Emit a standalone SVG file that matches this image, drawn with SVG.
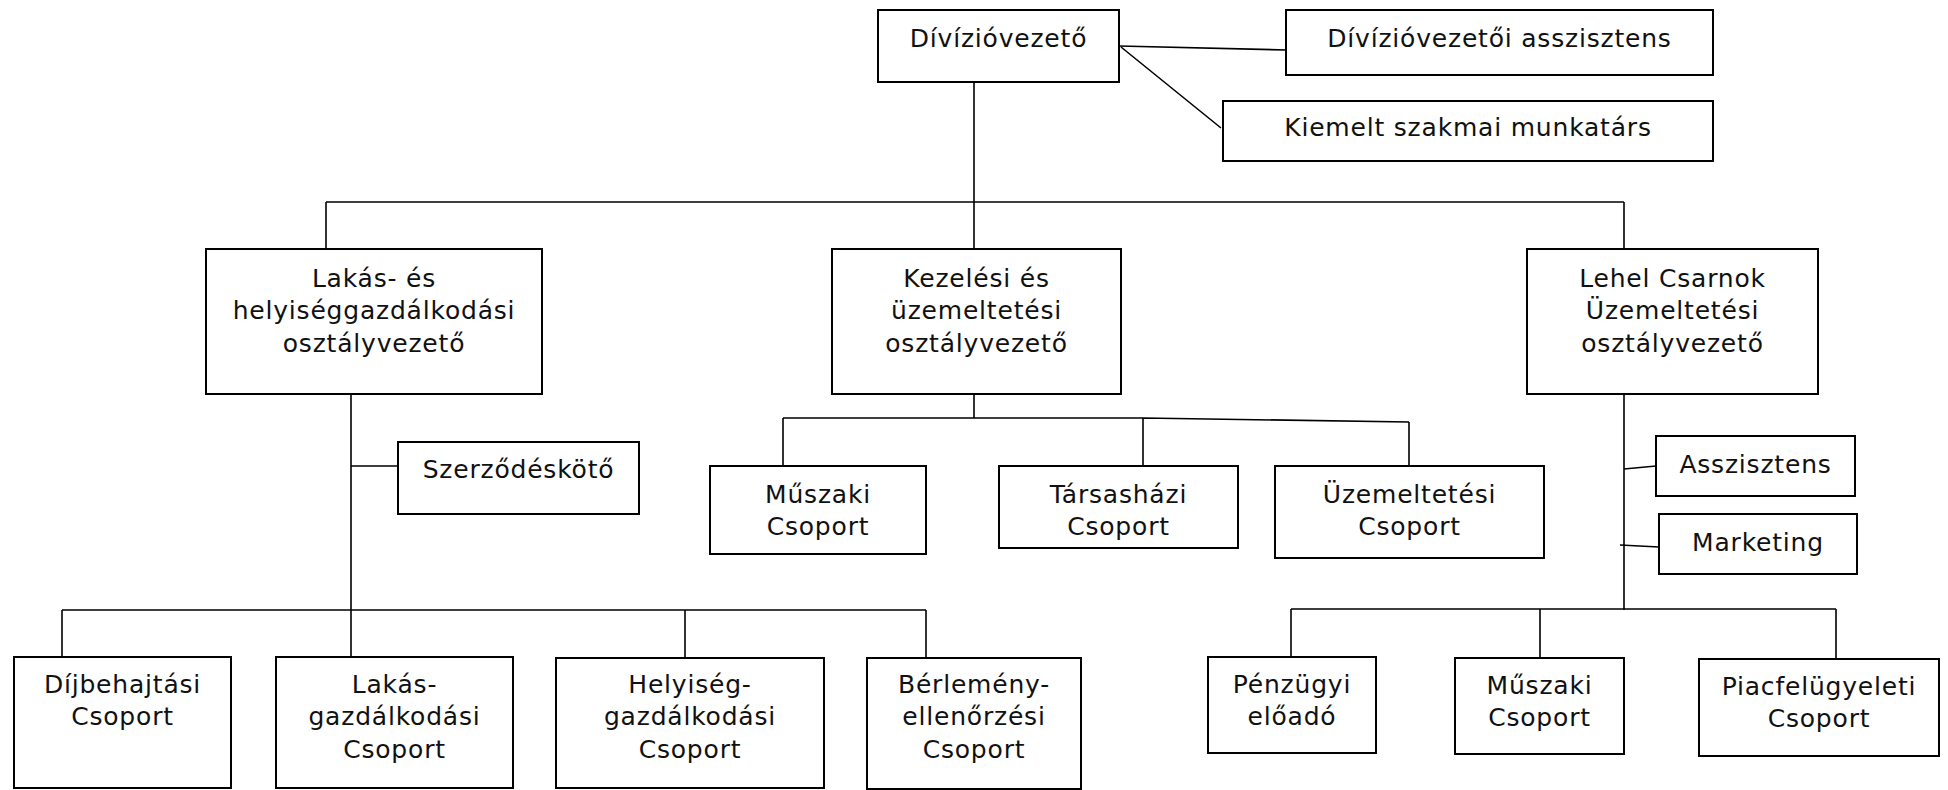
<svg xmlns="http://www.w3.org/2000/svg" width="1948" height="790" viewBox="0 0 1948 790">
<style>
.box{fill:#fff;stroke:#000;stroke-width:2}
.t{font-family:"DejaVu Sans","Liberation Sans",sans-serif;font-size:25px;fill:#111;text-anchor:middle;letter-spacing:0.8px}
.c{fill:none;stroke:#000;stroke-width:1.6}
</style>
<rect width="1948" height="790" fill="#fff"/>
<g id="connectors">
<path class="c" d="M974,82V202M326,202H1624M326,202V249M974,202V249M1624,202V249"/>
<path class="c" d="M1119,46L1286,50M1121,47L1221,128"/>
<path class="c" d="M351,394V610M351,466H398M62,610H926M62,610V657M351,610V657M685,610V658M926,610V658"/>
<path class="c" d="M974,394V418M783,418H1143L1409,422M783,418V466M1143,418V466M1409,422V466"/>
<path class="c" d="M1624,394V610M1624,469L1656,466M1620,545L1659,547M1291,609H1836M1291,609V657M1540,609V658M1836,609V659"/>
</g>
<g id="n-div"><rect class="box" x="878" y="10" width="241" height="72"/><text class="t" x="998.5" y="47">Dívízióvezető</text></g>
<g id="n-divassz"><rect class="box" x="1286" y="10" width="427" height="65"/><text class="t" x="1499.5" y="47">Dívízióvezetői asszisztens</text></g>
<g id="n-kiemelt"><rect class="box" x="1223" y="101" width="490" height="60"/><text class="t" x="1468" y="136">Kiemelt szakmai munkatárs</text></g>
<g id="n-lakas"><rect class="box" x="206" y="249" width="336" height="145"/><text class="t" x="374" y="287">Lakás- és</text><text class="t" x="374" y="319">helyiséggazdálkodási</text><text class="t" x="374" y="352">osztályvezető</text></g>
<g id="n-kezelesi"><rect class="box" x="832" y="249" width="289" height="145"/><text class="t" x="976.5" y="287">Kezelési és</text><text class="t" x="976.5" y="319">üzemeltetési</text><text class="t" x="976.5" y="352">osztályvezető</text></g>
<g id="n-lehel"><rect class="box" x="1527" y="249" width="291" height="145"/><text class="t" x="1672.5" y="287">Lehel Csarnok</text><text class="t" x="1672.5" y="319">Üzemeltetési</text><text class="t" x="1672.5" y="352">osztályvezető</text></g>
<g id="n-szerz"><rect class="box" x="398" y="442" width="241" height="72"/><text class="t" x="518.5" y="478">Szerződéskötő</text></g>
<g id="n-muszaki1"><rect class="box" x="710" y="466" width="216" height="88"/><text class="t" x="818" y="503">Műszaki</text><text class="t" x="818" y="535">Csoport</text></g>
<g id="n-tarsas"><rect class="box" x="999" y="466" width="239" height="82"/><text class="t" x="1118.5" y="503">Társasházi</text><text class="t" x="1118.5" y="535">Csoport</text></g>
<g id="n-uzem"><rect class="box" x="1275" y="466" width="269" height="92"/><text class="t" x="1409.5" y="503">Üzemeltetési</text><text class="t" x="1409.5" y="535">Csoport</text></g>
<g id="n-assz"><rect class="box" x="1656" y="436" width="199" height="60"/><text class="t" x="1755.5" y="473">Asszisztens</text></g>
<g id="n-mark"><rect class="box" x="1659" y="514" width="198" height="60"/><text class="t" x="1758" y="551">Marketing</text></g>
<g id="n-dij"><rect class="box" x="14" y="657" width="217" height="131"/><text class="t" x="122.5" y="693">Díjbehajtási</text><text class="t" x="122.5" y="725">Csoport</text></g>
<g id="n-lakasgazd"><rect class="box" x="276" y="657" width="237" height="131"/><text class="t" x="394.5" y="693">Lakás-</text><text class="t" x="394.5" y="725">gazdálkodási</text><text class="t" x="394.5" y="758">Csoport</text></g>
<g id="n-helyiseg"><rect class="box" x="556" y="658" width="268" height="130"/><text class="t" x="690" y="693">Helyiség-</text><text class="t" x="690" y="725">gazdálkodási</text><text class="t" x="690" y="758">Csoport</text></g>
<g id="n-berlemeny"><rect class="box" x="867" y="658" width="214" height="131"/><text class="t" x="974" y="693">Bérlemény-</text><text class="t" x="974" y="725">ellenőrzési</text><text class="t" x="974" y="758">Csoport</text></g>
<g id="n-penz"><rect class="box" x="1208" y="657" width="168" height="96"/><text class="t" x="1292" y="693">Pénzügyi</text><text class="t" x="1292" y="725">előadó</text></g>
<g id="n-muszaki2"><rect class="box" x="1455" y="658" width="169" height="96"/><text class="t" x="1539.5" y="694">Műszaki</text><text class="t" x="1539.5" y="726">Csoport</text></g>
<g id="n-piac"><rect class="box" x="1699" y="659" width="240" height="97"/><text class="t" x="1819" y="695">Piacfelügyeleti</text><text class="t" x="1819" y="727">Csoport</text></g>
</svg>
